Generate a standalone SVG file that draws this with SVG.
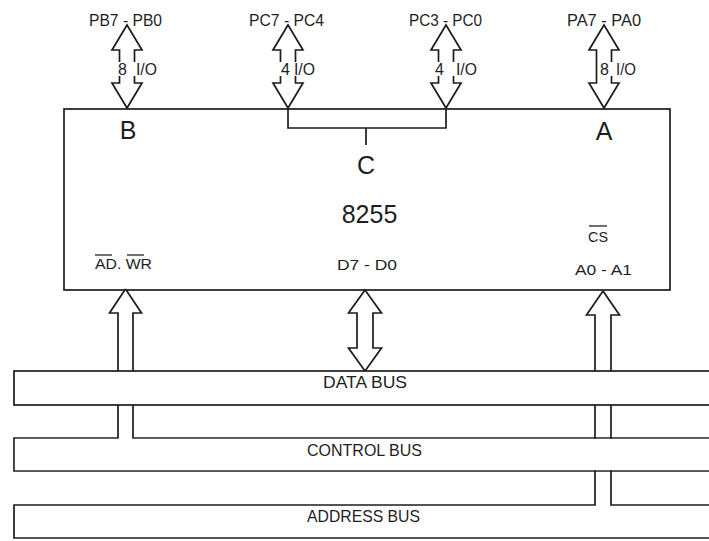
<svg xmlns="http://www.w3.org/2000/svg" width="709" height="541" viewBox="0 0 709 541">
<style>
.ln{fill:none;stroke:#1c1c1c;stroke-width:1.7;stroke-linejoin:miter}
.ar{fill:#fff;stroke:#1c1c1c;stroke-width:1.7;stroke-linejoin:miter}
.wf{fill:#fff;stroke:none}
.t{font-family:"Liberation Sans",Arial,sans-serif;fill:#1e1e1e}
.s15{font-size:15px}
.s16{font-size:16px}
.s17{font-size:17px}
.big{font-size:25px}
.mid{text-anchor:middle}
.ob{stroke:#222;stroke-width:1.3}
</style>
<rect width="709" height="541" fill="#fff"/>

<g id="connectors">
  <!-- top port arrows -->
  <path class="ar" d="M127,25 L142,50 L134.5,50 L134.5,83 L142,83 L127,108 L112,83 L119.5,83 L119.5,50 L112,50 Z"/>
  <path class="ar" d="M288,25 L303,50 L295.5,50 L295.5,83 L303,83 L288,108 L273,83 L280.5,83 L280.5,50 L273,50 Z"/>
  <path class="ar" d="M446,25 L461,50 L453.5,50 L453.5,83 L461,83 L446,108 L431,83 L438.5,83 L438.5,50 L431,50 Z"/>
  <path class="ar" d="M604,25 L619,50 L611.5,50 L611.5,83 L619,83 L604,108 L589,83 L596.5,83 L596.5,50 L589,50 Z"/>
  <!-- C bracket -->
  <path class="ln" d="M288,109 L288,128 L446,128 L446,109 M366,128 L366,145"/>
  <!-- control (AD.WR) arrow to control bus -->
  <path class="ln" d="M125.5,289 L141.5,313 L133,313 L133,438 L712,438"/>
  <path class="ln" d="M125.5,289 L109.5,313 L118,313 L118,438 L14,438 L14,471 L712,471"/>
  <!-- address (A0-A1) arrow to address bus -->
  <path class="ln" d="M603,291 L619.5,315 L611,315 L611,505 L712,505"/>
  <path class="ln" d="M603,291 L586.5,315 L595,315 L595,505 L14,505 L14,538 L712,538"/>
  <!-- data arrow D7-D0 -->
  <path class="ar" d="M365,290 L381.5,313 L373,313 L373,348 L381.5,348 L365,371 L348.5,348 L357,348 L357,313 L348.5,313 Z"/>
</g>

<g id="port-labels">
  <text class="t s16" x="89" y="26" textLength="73" lengthAdjust="spacingAndGlyphs">PB7 - PB0</text>
  <text class="t s16" x="249" y="26" textLength="75" lengthAdjust="spacingAndGlyphs">PC7 - PC4</text>
  <text class="t s16" x="409" y="26" textLength="73" lengthAdjust="spacingAndGlyphs">PC3 - PC0</text>
  <text class="t s16" x="567" y="26" textLength="74" lengthAdjust="spacingAndGlyphs">PA7 - PA0</text>

  <rect class="wf" x="116" y="62" width="43" height="14"/>
  <text class="t s16" x="118" y="75">8</text>
  <text class="t s16" x="136" y="75" textLength="21" lengthAdjust="spacingAndGlyphs">I/O</text>

  <rect class="wf" x="279" y="62" width="40" height="14"/>
  <text class="t s16" x="281" y="75">4</text>
  <text class="t s16" x="294" y="75" textLength="21" lengthAdjust="spacingAndGlyphs">I/O</text>

  <rect class="wf" x="433" y="62" width="46" height="14"/>
  <text class="t s16" x="435" y="75">4</text>
  <text class="t s16" x="456" y="75" textLength="21" lengthAdjust="spacingAndGlyphs">I/O</text>

  <rect class="wf" x="598" y="62" width="39" height="14"/>
  <text class="t s16" x="600" y="75">8</text>
  <text class="t s16" x="616" y="75" textLength="20" lengthAdjust="spacingAndGlyphs">I/O</text>
</g>

<g id="chip-8255">
  <rect class="ln" x="64" y="109" width="606" height="181"/>
  <text class="t big mid" x="128" y="139">B</text>
  <text class="t big mid" x="604" y="140">A</text>
  <text class="t big mid" x="366" y="174">C</text>
  <text class="t big mid" x="369.5" y="223">8255</text>
  <text class="t s15" x="95" y="269" textLength="57" lengthAdjust="spacingAndGlyphs">AD. WR</text>
  <line class="ob" x1="95" y1="255" x2="112" y2="255"/>
  <line class="ob" x1="127" y1="255" x2="144" y2="255"/>
  <text class="t s15" x="337" y="270" textLength="60" lengthAdjust="spacingAndGlyphs">D7 - D0</text>
  <text class="t" style="font-size:14px" x="588" y="242" textLength="20" lengthAdjust="spacingAndGlyphs">CS</text>
  <line class="ob" x1="589" y1="226" x2="607" y2="226"/>
  <text class="t s15" x="575" y="275" textLength="57" lengthAdjust="spacingAndGlyphs">A0 - A1</text>
</g>

<g id="address-bus">
  <text class="t s17" x="307" y="522" textLength="113" lengthAdjust="spacingAndGlyphs">ADDRESS BUS</text>
</g>

<g id="control-bus">
  <rect class="wf" x="14.9" y="438.9" width="700" height="31.2"/>
  <text class="t s17" x="307" y="456" textLength="115" lengthAdjust="spacingAndGlyphs">CONTROL BUS</text>
</g>

<g id="data-bus">
  <rect class="ar" x="14" y="371" width="720" height="34"/>
  <text class="t s17" x="323" y="388" textLength="84" lengthAdjust="spacingAndGlyphs">DATA BUS</text>
</g>
</svg>
